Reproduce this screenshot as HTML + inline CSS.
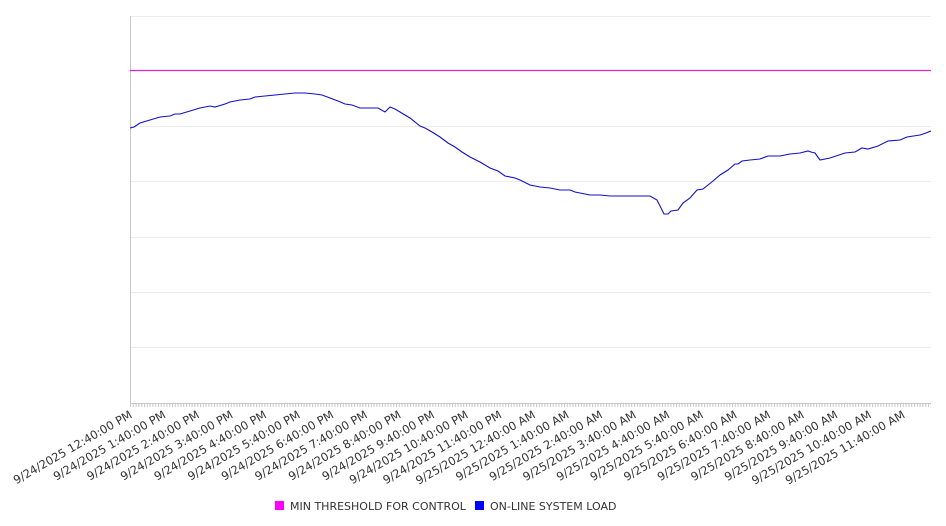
<!DOCTYPE html>
<html><head><meta charset="utf-8"><style>
html,body{margin:0;padding:0;background:#fff;}
svg{display:block;font-family:"DejaVu Sans","Liberation Sans",sans-serif;}
</style></head><body>
<svg width="946" height="526" viewBox="0 0 946 526">
<defs>
<pattern id="mt" x="130" y="0" width="2.8" height="10" patternUnits="userSpaceOnUse"><rect x="0" y="0" width="1" height="10" fill="#c8c8c8"/></pattern>
</defs>
<g stroke="#ececec" stroke-width="1">
<line x1="130" y1="16.5" x2="931" y2="16.5"/>
<line x1="130" y1="126.5" x2="931" y2="126.5"/>
<line x1="130" y1="181.5" x2="931" y2="181.5"/>
<line x1="130" y1="237.5" x2="931" y2="237.5"/>
<line x1="130" y1="292.5" x2="931" y2="292.5"/>
<line x1="130" y1="347.5" x2="931" y2="347.5"/>
</g>
<line x1="130.5" y1="16" x2="130.5" y2="404" stroke="#c8c8c8"/>
<line x1="130" y1="403.5" x2="931" y2="403.5" stroke="#c8c8c8"/>
<rect x="130" y="403" width="801" height="4" fill="url(#mt)"/>
<line x1="130" y1="70.5" x2="931" y2="70.5" stroke="#e020e0" stroke-width="1.2"/>
<polyline fill="none" stroke="#1010c8" stroke-width="1.1" points="130,128 134,127 140,123 150,120 160,117 170,116 175,114 180,114 190,111 200,108 210,106 215,107 225,104 230,102 240,100 250,99 255,97 265,96 275,95 285,94 295,93 305,93 315,94 322,95 330,98 338,101 345,104 352,105 360,108 370,108 378,108 385,112 390,107 395,109 400,112 410,118 420,126 425,128 432,132 440,137 448,143 455,147 462,152 470,157 480,162 490,168 498,171 505,176 515,178 520,180 530,185 540,187 550,188 560,190 570,190 575,192 585,194 590,195 600,195 610,196 620,196 630,196 640,196 650,196 657,200 664,214 668,214 671,211 678,210 683,203 690,198 697,190 703,189 713,181 720,175 728,170 735,164 738,164 742,161 750,160 760,159 768,156 780,156 790,154 800,153 808,151 811,152 815,153 820,160 830,158 845,153 855,152 862,148 868,149 878,146 888,141 900,140 907,137 920,135 926,133 931,131"/>
<g font-size="11.5" fill="#333" text-anchor="end">
<text transform="translate(133,417) rotate(-30)">9/24/2025 12:40:00 PM</text>
<text transform="translate(166.6,417) rotate(-30)">9/24/2025 1:40:00 PM</text>
<text transform="translate(200.2,417) rotate(-30)">9/24/2025 2:40:00 PM</text>
<text transform="translate(233.8,417) rotate(-30)">9/24/2025 3:40:00 PM</text>
<text transform="translate(267.4,417) rotate(-30)">9/24/2025 4:40:00 PM</text>
<text transform="translate(301,417) rotate(-30)">9/24/2025 5:40:00 PM</text>
<text transform="translate(334.6,417) rotate(-30)">9/24/2025 6:40:00 PM</text>
<text transform="translate(368.2,417) rotate(-30)">9/24/2025 7:40:00 PM</text>
<text transform="translate(401.8,417) rotate(-30)">9/24/2025 8:40:00 PM</text>
<text transform="translate(435.4,417) rotate(-30)">9/24/2025 9:40:00 PM</text>
<text transform="translate(469,417) rotate(-30)">9/24/2025 10:40:00 PM</text>
<text transform="translate(502.6,417) rotate(-30)">9/24/2025 11:40:00 PM</text>
<text transform="translate(536.2,417) rotate(-30)">9/25/2025 12:40:00 AM</text>
<text transform="translate(569.8,417) rotate(-30)">9/25/2025 1:40:00 AM</text>
<text transform="translate(603.4,417) rotate(-30)">9/25/2025 2:40:00 AM</text>
<text transform="translate(637,417) rotate(-30)">9/25/2025 3:40:00 AM</text>
<text transform="translate(670.6,417) rotate(-30)">9/25/2025 4:40:00 AM</text>
<text transform="translate(704.2,417) rotate(-30)">9/25/2025 5:40:00 AM</text>
<text transform="translate(737.8,417) rotate(-30)">9/25/2025 6:40:00 AM</text>
<text transform="translate(771.4,417) rotate(-30)">9/25/2025 7:40:00 AM</text>
<text transform="translate(805,417) rotate(-30)">9/25/2025 8:40:00 AM</text>
<text transform="translate(838.6,417) rotate(-30)">9/25/2025 9:40:00 AM</text>
<text transform="translate(872.2,417) rotate(-30)">9/25/2025 10:40:00 AM</text>
<text transform="translate(905.8,417) rotate(-30)">9/25/2025 11:40:00 AM</text>
</g>
<rect x="275" y="501" width="9" height="9" fill="#ff00ff"/>
<text x="290" y="510" font-size="11" fill="#333">MIN THRESHOLD FOR CONTROL</text>
<rect x="475" y="501" width="9" height="9" fill="#0000ff"/>
<text x="490" y="510" font-size="11" fill="#333">ON-LINE SYSTEM LOAD</text>
</svg>
</body></html>
